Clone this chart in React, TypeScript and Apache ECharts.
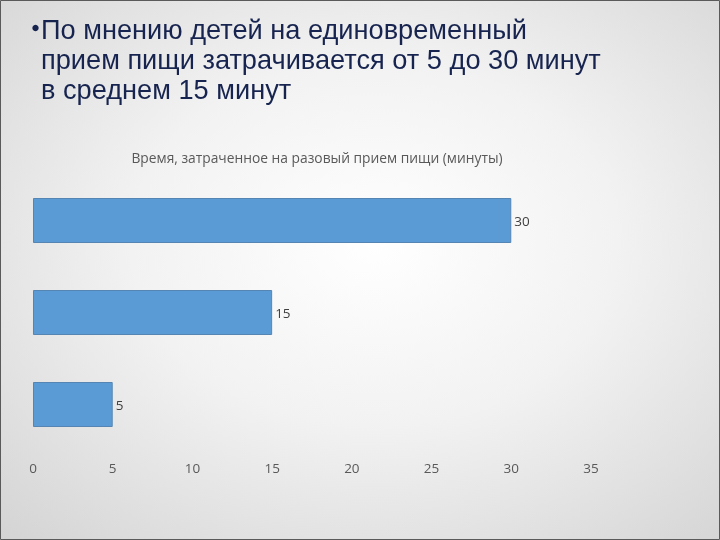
import React, { useEffect, useRef } from "react";
import * as echarts from "echarts";

const categories = ["Максимум", "Среднее", "Минимум"];
const minutes = [30, 15, 5];
const axisTicks = { min: 0, max: 35, interval: 5 };
const headline = [
  "По мнению детей на единовременный",
  "прием пищи затрачивается от 5 до 30 минут",
  "в среднем 15 минут",
];
const chartTitle = "Время, затраченное на разовый прием пищи (минуты)";

export default function App() {
  const ref = useRef<HTMLDivElement>(null);
  useEffect(() => {
    if (!ref.current) return;
    const chart = echarts.init(ref.current, null, { renderer: "svg" });
    const lineY = [29, 59, 89];
    chart.setOption({
      animation: false,
      title: {
        text: chartTitle,
        left: 312,
        top: 145,
        textAlign: "center",
        textStyle: {
          fontFamily: "Open Sans",
          fontSize: 13.8,
          fontWeight: "normal",
          color: "#595959",
        },
      },
      graphic: [
        {
          type: "rect",
          z: -100,
          silent: true,
          shape: { x: 0, y: 0, width: 720, height: 540 },
          style: {
            fill: new echarts.graphic.RadialGradient(0.52, 0.45, 0.75, [
              { offset: 0, color: "#ffffff" },
              { offset: 0.45, color: "#f2f2f2" },
              { offset: 1, color: "#d4d4d4" },
            ]),
          },
        },
        {
          type: "rect",
          z: 100,
          silent: true,
          shape: { x: 0.5, y: 0.5, width: 719, height: 539 },
          style: { fill: "none", stroke: "#5a5a5a", lineWidth: 1 },
        },
        {
          type: "circle",
          shape: { cx: 35.5, cy: 28, r: 3.2 },
          style: { fill: "#17244f" },
        },
        ...headline.map((t, i) => ({
          type: "text",
          x: 41,
          y: lineY[i],
          scaleX: 1.0,
          style: {
            text: t,
            fontFamily: "Liberation Sans",
            fontSize: 27.2,
            fill: "#17244f",
            verticalAlign: "middle",
            align: "left",
          },
        })),
      ],
      grid: { left: 33, right: 129, top: 174.5, bottom: 89.5, containLabel: false },
      xAxis: {
        type: "value",
        min: axisTicks.min,
        max: axisTicks.max,
        interval: axisTicks.interval,
        axisLine: { show: false },
        axisTick: { show: false },
        splitLine: { show: false },
        axisLabel: {
          margin: 10,
          color: "#595959",
          fontFamily: "Open Sans",
          fontSize: 13.5,
        },
      },
      yAxis: {
        type: "category",
        data: categories,
        inverse: true,
        axisLine: { show: false },
        axisTick: { show: false },
        axisLabel: { show: false },
        splitLine: { show: false },
      },
      series: [
        {
          type: "bar",
          data: minutes,
          barWidth: 45,
          itemStyle: {
            color: "#5b9bd5",
            borderColor: "#5585b3",
            borderWidth: 1,
          },
          label: {
            show: true,
            position: "right",
            distance: 3,
            color: "#404040",
            fontFamily: "Open Sans",
            fontSize: 13.5,
          },
        },
      ],
    });
    return () => chart.dispose();
  }, []);
  return (
    <div
      ref={ref}
      style={{ position: "fixed", left: 0, top: 0, width: 720, height: 540 }}
    />
  );
}
